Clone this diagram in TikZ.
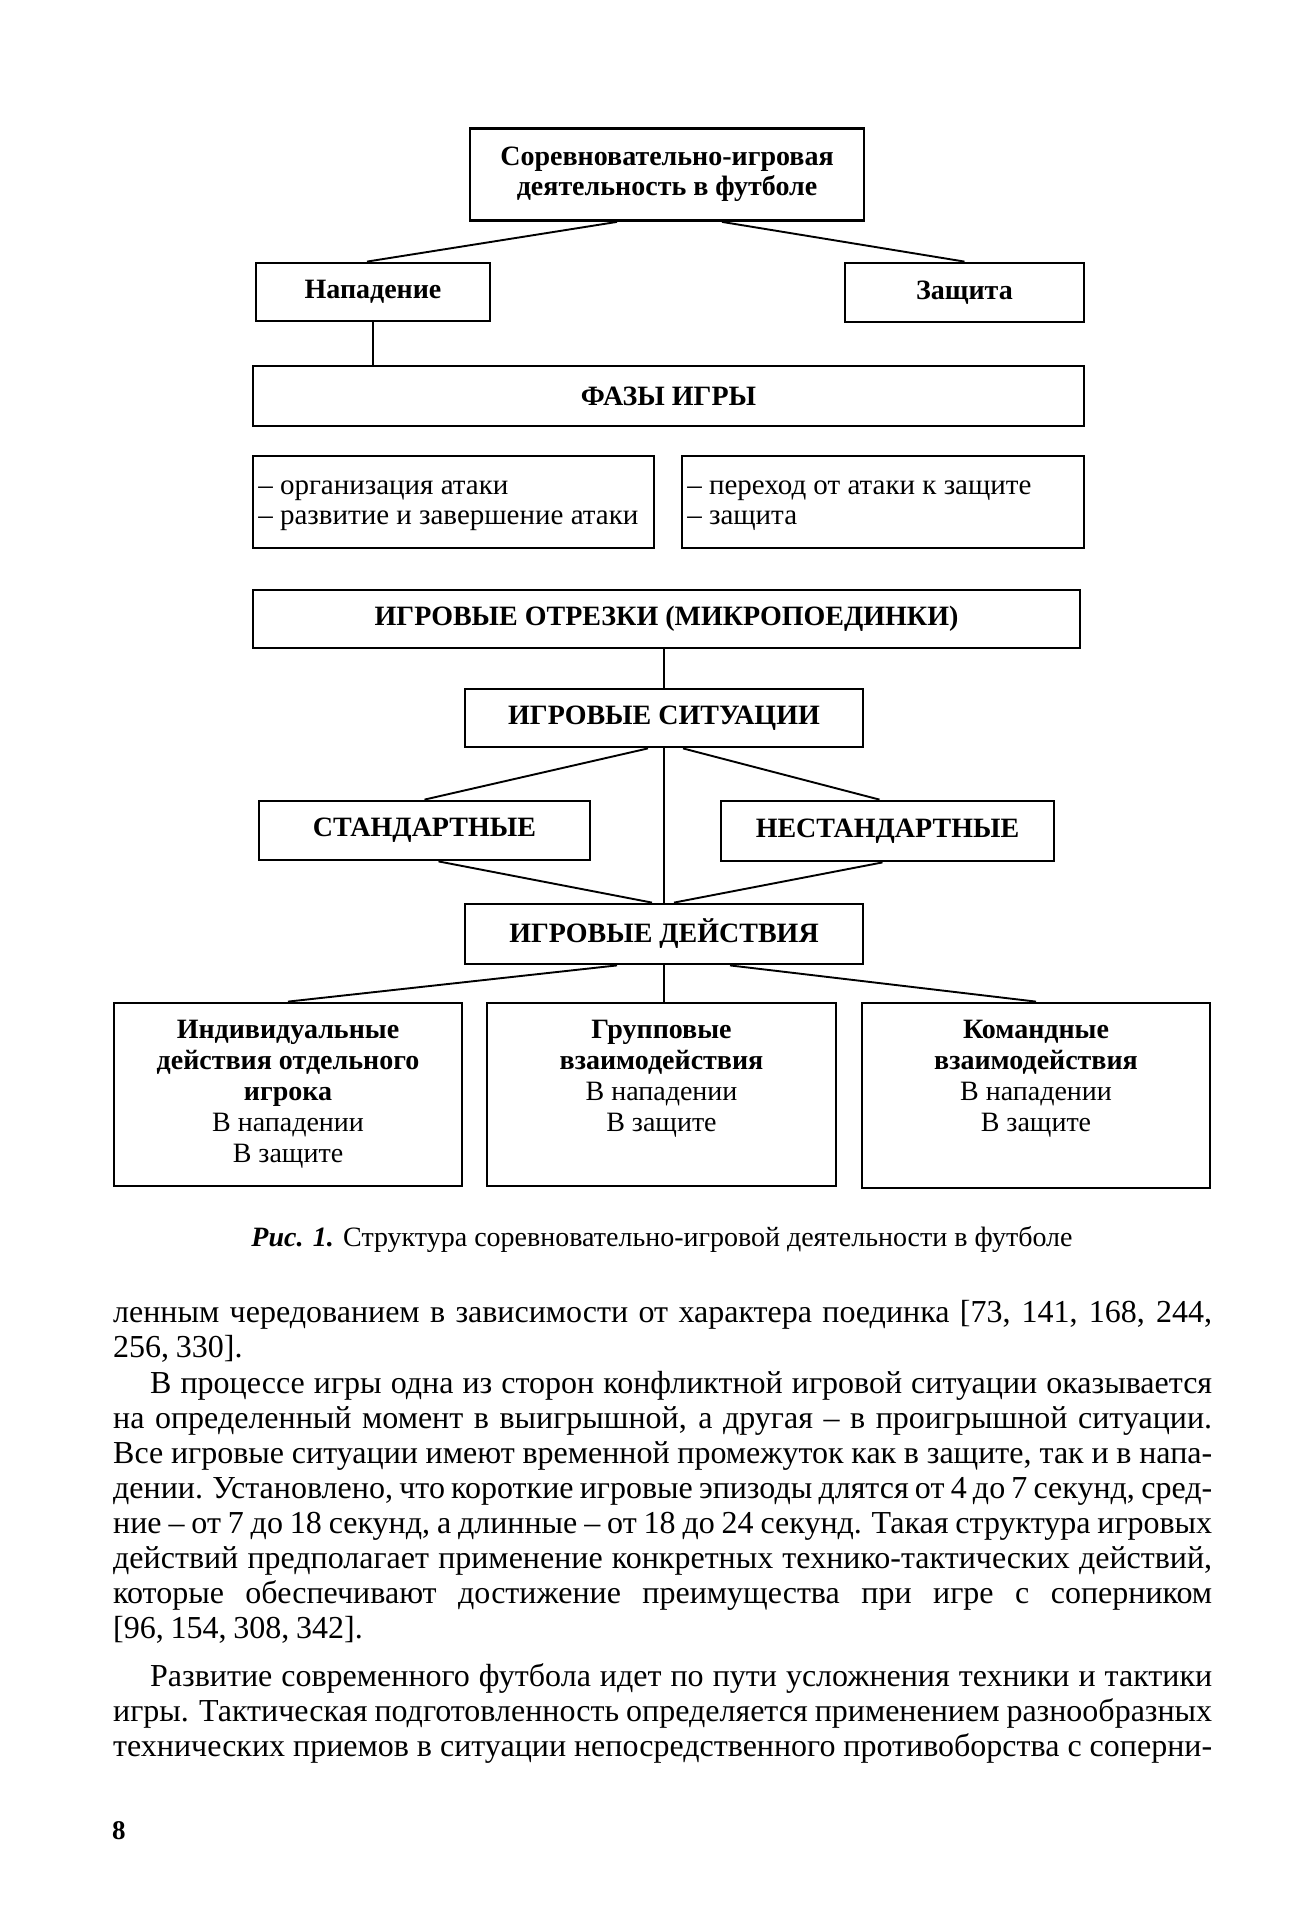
\documentclass[tikz,border=0pt]{standalone}
\usepackage{fontspec}
\setmainfont{Liberation Serif}
\newfontfamily\bodyfont[WordSpace=0.85]{Liberation Serif}
\usetikzlibrary{calc}
\begin{document}
\begin{tikzpicture}[x=1pt,y=-1pt,
  box/.style={draw, line width=2.8pt, inner sep=0pt, align=center, font=\fontsize{28}{30}\selectfont\bfseries},
  ptext/.style={inner sep=0pt, anchor=west, align=left, font=\fontsize{29}{30}\selectfont},
  lbl/.style={inner sep=0pt, align=center, anchor=north, font=\fontsize{28}{31}\selectfont},
  conn/.style={line width=1.9pt},
  vline/.style={line width=1.4pt},
  body/.style={anchor=base west, inner sep=0pt, font=\bodyfont\fontsize{32}{35}\selectfont},
]
\useasboundingbox (0,0) rectangle (1296,1929);
\fill[white] (0,0) rectangle (1296,1929);

% boxes
\node[box, minimum width=394pt, minimum height=92pt] (top) at (667,174.5) {Соревновательно-игровая\\деятельность в футболе};
\node[box, minimum width=234pt, minimum height=58pt] (nap) at (373,292) {Нападение};
\node[box, minimum width=239pt, minimum height=59pt] (zas) at (964.5,292.5) {Защита};
\node[box, minimum width=831pt, minimum height=60pt] (faz) at (668.5,396) {ФАЗЫ ИГРЫ};
\node[box, minimum width=401pt, minimum height=92pt] (phl) at (453.5,502) {};
\node[box, minimum width=402pt, minimum height=92pt] (phr) at (883,502) {};
\node[ptext] (phlt) at ([xshift=6.5pt,yshift=-4pt]phl.west) {– организация атаки\\– развитие и завершение атаки};
\node[ptext] (phrt) at ([xshift=6.5pt,yshift=-4pt]phr.west) {– переход от атаки к защите\\– защита};
\node[box, minimum width=827pt, minimum height=58pt] (otr) at (666.5,619) {ИГРОВЫЕ ОТРЕЗКИ (МИКРОПОЕДИНКИ)};
\node[box, minimum width=398pt, minimum height=58pt] (sit) at (664,718) {ИГРОВЫЕ СИТУАЦИИ};
\node[box, minimum width=331pt, minimum height=59pt] (stand) at (424.5,830.5) {СТАНДАРТНЫЕ};
\node[box, minimum width=333pt, minimum height=60pt] (nest) at (887.5,831) {НЕСТАНДАРТНЫЕ};
\node[box, minimum width=398pt, minimum height=60pt] (dej) at (664,934) {ИГРОВЫЕ ДЕЙСТВИЯ};
\node[box, minimum width=348pt, minimum height=183pt] (b1) at (288,1094.5) {};
\node[box, minimum width=349pt, minimum height=183pt] (b2) at (661.5,1094.5) {};
\node[box, minimum width=348pt, minimum height=185pt] (b3) at (1036,1095.5) {};

\node[lbl] (t1) at ([yshift=-18.5pt]b1.north) {\textbf{Индивидуальные}\\\textbf{действия отдельного}\\\textbf{игрока}\\В нападении\\В защите};
\node[lbl] (t2) at ([yshift=-18.5pt]b2.north) {\textbf{Групповые}\\\textbf{взаимодействия}\\В нападении\\В защите};
\node[lbl] (t3) at ([yshift=-18.5pt]b3.north) {\textbf{Командные}\\\textbf{взаимодействия}\\В нападении\\В защите};

% connectors
\draw[conn] ([xshift=-50pt]top.south) -- ([xshift=-6pt]nap.north);
\draw[conn] ([xshift=55pt]top.south) -- (zas.north);
\draw[vline] (nap.south) -- (nap.south |- faz.north);
\draw[vline] (sit.north |- otr.south) -- (sit.north);
\draw[conn] ([xshift=-16pt]sit.south) -- (stand.north);
\draw[conn] ([xshift=19pt]sit.south) -- ([xshift=-8pt]nest.north);
\draw[vline] (sit.south) -- (dej.north);
\draw[conn] ([xshift=14pt]stand.south) -- ([xshift=-12pt]dej.north);
\draw[conn] ([xshift=-5pt]nest.south) -- ([xshift=10pt]dej.north);
\draw[conn] ([xshift=-47pt]dej.south) -- (b1.north);
\draw[vline] (dej.south) -- (dej.south |- b2.north);
\draw[conn] ([xshift=66pt]dej.south) -- (b3.north);

% caption
\node[anchor=base, inner sep=0pt, font=\fontsize{28}{30}\selectfont] (cap) at (662,1246) {\textbf{\textit{Рис. 1.}} Структура соревновательно-игровой деятельности в футболе};

% body text
\node[body] (l1) at (113,1322) {\makebox[1099pt][s]{ленным чередованием в зависимости от характера поединка [73, 141, 168, 244,}};
\node[body] (l2) at (113,1357) {256, 330].};
\node[body] (l3) at (150,1393) {\makebox[1062pt][s]{В процессе игры одна из сторон конфликтной игровой ситуации оказывается}};
\node[body] (l4) at (113,1428) {\makebox[1099pt][s]{на определенный момент в выигрышной, а другая – в проигрышной ситуации.}};
\node[body] (l5) at (113,1463) {\makebox[1099pt][s]{Все игровые ситуации имеют временной промежуток как в защите, так и в напа-}};
\node[body] (l6) at (113,1498) {\makebox[1099pt][s]{дении. Установлено, что короткие игровые эпизоды длятся от 4 до 7 секунд, сред-}};
\node[body] (l7) at (113,1533) {\makebox[1099pt][s]{ние – от 7 до 18 секунд, а длинные – от 18 до 24 секунд. Такая структура игровых}};
\node[body] (l8) at (113,1568) {\makebox[1099pt][s]{действий предполагает применение конкретных технико-тактических действий,}};
\node[body] (l9) at (113,1603) {\makebox[1099pt][s]{которые обеспечивают достижение преимущества при игре с соперником}};
\node[body] (l10) at (113,1638) {[96, 154, 308, 342].};
\node[body] (l11) at (150,1686) {\makebox[1062pt][s]{Развитие современного футбола идет по пути усложнения техники и тактики}};
\node[body] (l12) at (113,1721) {\makebox[1099pt][s]{игры. Тактическая подготовленность определяется применением разнообразных}};
\node[body] (l13) at (113,1756) {\makebox[1099pt][s]{технических приемов в ситуации непосредственного противоборства с соперни-}};

\node[anchor=base west, inner sep=0pt, font=\fontsize{27}{30}\selectfont\bfseries] (pn) at (112,1839) {8};
\end{tikzpicture}
\end{document}
